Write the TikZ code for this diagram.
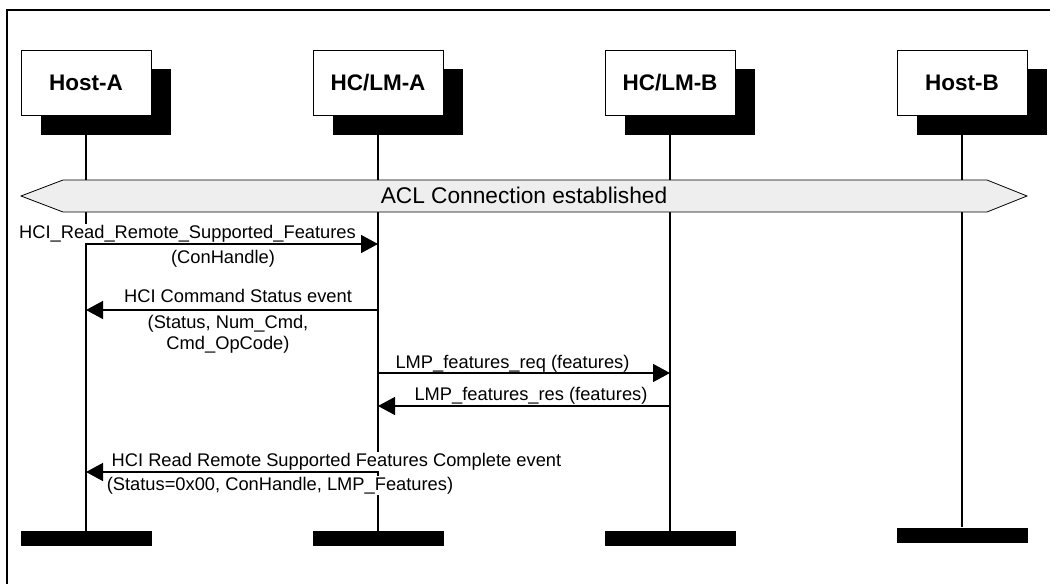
\documentclass[tikz,border=0pt]{standalone}
\usepackage{fontspec}
\setmainfont{Liberation Sans}
\usetikzlibrary{arrows.meta}
\definecolor{bannergray}{RGB}{238,238,238}
\begin{document}
\begin{tikzpicture}[x=1pt,y=-1pt,
  actor/.style={draw=black, line width=0.8pt, fill=white, minimum width=130pt, minimum height=65pt, inner sep=0pt, font=\fontsize{22.5}{27}\selectfont\bfseries},
  shadowbox/.style={fill=black, minimum width=130pt, minimum height=66pt, inner sep=0pt},
  endbar/.style={fill=black, minimum width=131pt, minimum height=15pt, inner sep=0pt},
  life/.style={line width=1.2pt},
  msg/.style={line width=1.4pt, -{Triangle[length=17pt,width=18pt]}},
  lbl/.style={font=\fontsize{18.3}{21}\selectfont, fill=white, inner sep=1pt, anchor=base},
]
\useasboundingbox (0,0) rectangle (1059,583);
% frame
\draw[line width=2pt] (1050,10) -- (7,10) -- (7,590);
% shadows
\node[shadowbox] (sA) at (106,102) {};
\node[shadowbox] (sLA) at (398,102) {};
\node[shadowbox] (sLB) at (690,102) {};
\node[shadowbox] (sB) at (982,102) {};
% end bars
\node[endbar] (eA) at (86.5,538.5) {};
\node[endbar] (eLA) at (378.5,538.5) {};
\node[endbar] (eLB) at (670.5,538.5) {};
\node[endbar] (eB) at (962.5,535) {};
% actor boxes
\node[actor] (hA) at (86,82.5) {Host-A};
\node[actor] (lA) at (378,82.5) {HC/LM-A};
\node[actor] (lB) at (670,82.5) {HC/LM-B};
\node[actor] (hB) at (962,82.5) {Host-B};
% lifelines
\draw[life] (sA.south -| hA.south) -- (eA.north -| hA.south);
\draw[life] (sLA.south -| lA.south) -- (eLA.north -| lA.south);
\draw[life] (sLB.south -| lB.south) -- (eLB.north -| lB.south);
\draw[life] (sB.south -| hB.south) -- (eB.north -| hB.south);
% ACL banner
\draw[fill=bannergray, line width=0.8pt] (21,196) -- (63,180) -- (987,180) -- (1027,196) -- (987,212) -- (63,212) -- cycle;
\node[anchor=base, inner sep=0pt, font=\fontsize{22.7}{27}\selectfont] (acl) at (524,203) {ACL Connection established};
% labels
\node[lbl] (m1a) at (187.5,238) {HCI\_Read\_Remote\_Supported\_Features};
\node[lbl] (m1b) at (223,263) {(ConHandle)};
\node[lbl] (m2a) at (238,302) {HCI Command Status event};
\node[lbl] (m2b) at (228,328) {(Status, Num\_Cmd,};
\node[lbl] (m2c) at (228,349) {Cmd\_OpCode)};
\node[lbl] (m3a) at (512.5,368) {LMP\_features\_req (features)};
\node[lbl] (m4a) at (531,400) {LMP\_features\_res (features)};
\node[lbl] (m5a) at (336.5,466) {HCI Read Remote Supported Features Complete event};
\node[lbl] (m5b) at (280,490) {(Status=0x00, ConHandle, LMP\_Features)};
% messages
\draw[msg] (hA.south |- 0,244) -- (lA.south |- 0,244);
\draw[msg] (lA.south |- 0,310) -- (hA.south |- 0,310);
\draw[msg] (lA.south |- 0,373) -- (lB.south |- 0,373);
\draw[msg] (lB.south |- 0,406) -- (lA.south |- 0,406);
\draw[msg] (lA.south |- 0,472) -- (hA.south |- 0,472);
\end{tikzpicture}
\end{document}
